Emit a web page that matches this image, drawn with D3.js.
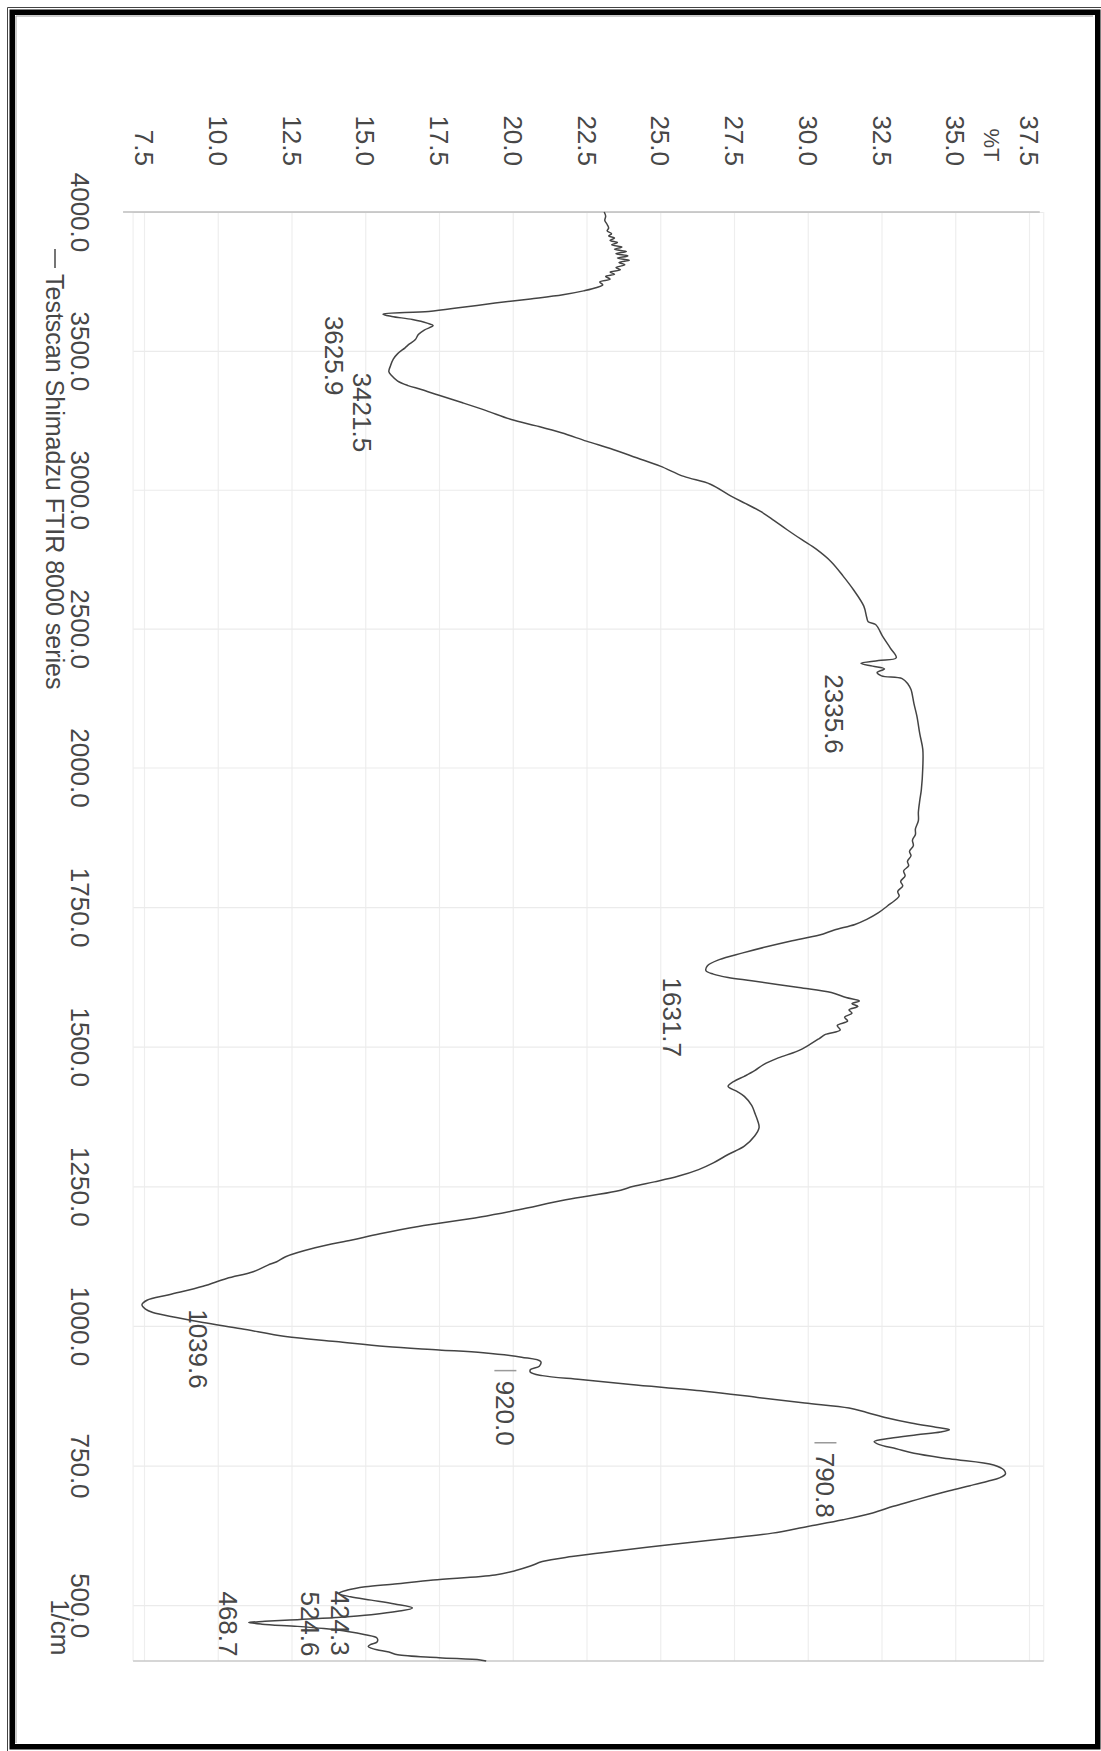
<!DOCTYPE html>
<html>
<head>
<meta charset="utf-8">
<script src="https://cdn.jsdelivr.net/npm/d3@7"></script>
<style>
  html, body { margin: 0; padding: 0; background: #fff; }
  svg { display: block; }
  text { font-family: "Liberation Sans", Arial, sans-serif; fill: #474747; }
</style>
</head>
<body>
<svg id="chart" width="1101" height="1751"></svg>
<script>
// ---------------- DATA ----------------
const wavenumber = [
  4000, 3985, 3970, 3955, 3942, 3932, 3922, 3914, 3906, 3898, 3890, 3882, 3874, 3866, 3858, 3850,
  3842, 3834, 3826, 3818, 3810, 3800, 3792, 3784, 3776, 3768, 3758, 3748, 3738, 3728, 3716, 3702,
  3687, 3672, 3657, 3642, 3632, 3624, 3613, 3600, 3591, 3575, 3559, 3541, 3525, 3511, 3490, 3470,
  3445, 3425, 3410, 3391, 3375, 3361, 3340, 3313, 3285, 3253, 3230, 3205, 3175, 3145, 3115, 3085,
  3048, 3020, 2977, 2950, 2922, 2890, 2856, 2820, 2785, 2740, 2689, 2640, 2581, 2540, 2525, 2515,
  2470, 2430, 2395, 2385, 2375, 2365, 2355, 2342, 2330, 2320, 2300, 2281, 2230, 2185, 2120, 2065,
  2000, 1960, 1942, 1920, 1905, 1890, 1880, 1870, 1860, 1850, 1842, 1832, 1824, 1815, 1806, 1796,
  1788, 1778, 1770, 1764, 1752, 1740, 1728, 1719, 1709, 1700, 1689, 1679, 1668, 1656, 1645, 1636,
  1630, 1624, 1618, 1606, 1597, 1588, 1582, 1577, 1572, 1566, 1560, 1553, 1546, 1538, 1530, 1522,
  1515, 1505, 1492, 1480, 1468, 1457, 1447, 1438, 1429, 1420, 1411, 1395, 1382, 1368, 1355, 1340,
  1322, 1307, 1292, 1280, 1268, 1258, 1250, 1241, 1226, 1208, 1195, 1178, 1165, 1154, 1140, 1124,
  1115, 1109, 1097, 1085, 1071, 1056, 1046, 1038, 1030, 1024, 1015, 1006, 995, 981, 972, 963,
  957, 952, 944, 936, 928, 922, 917, 911, 904, 895, 883, 872, 862, 853, 845, 835,
  826, 818, 814, 810, 805, 799, 793, 788, 780, 772, 762, 751, 742, 735, 728, 722,
  714, 705, 695, 686, 677, 665, 653, 641, 629, 618, 608, 597, 587, 578, 570, 562,
  554, 545, 538, 533, 527, 521, 515, 509, 502, 495, 489, 483, 478, 474, 471, 469,
  466, 462, 458, 453, 447, 441, 434, 430, 426, 423, 420, 416, 411, 406, 402, 400
];
const transmittance = [
  23.1, 23.15, 23.12, 23.2, 23.25, 23.2, 23.35, 23.25, 23.45, 23.3, 23.55, 23.35, 23.7, 23.45, 23.85, 23.5,
  23.9, 23.55, 23.95, 23.6, 23.8, 23.5, 23.65, 23.3, 23.45, 23.15, 23.3, 22.95, 23.05, 22.85, 22.4, 21.7,
  20.6, 19.4, 18.3, 17.15, 15.6, 15.9, 16.6, 17.1, 17.3, 17.0, 16.8, 16.7, 16.5, 16.35, 16.1, 15.95,
  15.85, 15.8, 15.9, 16.1, 16.45, 16.9, 17.5, 18.3, 19.1, 19.95, 20.8, 21.65, 22.5, 23.4, 24.2, 25.0,
  25.8, 26.7, 27.4, 27.9, 28.4, 28.85, 29.3, 29.8, 30.3, 30.8, 31.2, 31.55, 31.9, 32.0, 32.05, 32.3,
  32.55, 32.8, 33.0, 32.4, 31.8, 32.2, 32.6, 32.35, 32.5, 33.2, 33.4, 33.5, 33.6, 33.7, 33.8, 33.9,
  33.9, 33.85, 33.8, 33.75, 33.75, 33.65, 33.65, 33.55, 33.58, 33.45, 33.5, 33.38, 33.42, 33.25, 33.3, 33.15,
  33.22, 33.05, 33.1, 33.0, 32.7, 32.4, 32.0, 31.6, 30.9, 30.4, 29.4, 28.6, 27.8, 27.0, 26.6, 26.55,
  26.8, 27.3, 28.1, 29.7, 30.8, 31.3, 31.75, 31.5, 31.7, 31.4, 31.5, 31.25, 31.35, 31.0, 31.1, 30.6,
  30.4, 30.1, 29.65, 29.0, 28.5, 28.2, 27.85, 27.5, 27.3, 27.6, 27.85, 28.1, 28.2, 28.3, 28.35, 28.2,
  27.85, 27.3, 26.8, 26.3, 25.6, 24.8, 24.1, 23.5, 21.8, 20.2, 18.9, 16.8, 15.5, 14.55, 13.3, 12.3,
  12.0, 11.7, 11.2, 10.3, 9.5, 8.35, 7.6, 7.43, 7.55, 7.8, 8.6, 9.5, 10.8, 12.3, 14.0, 15.7,
  17.5, 19.0, 20.3, 20.95, 20.9, 20.6, 20.6, 21.0, 22.3, 24.0, 26.5, 28.3, 29.9, 31.4, 32.0, 32.7,
  33.5, 34.4, 34.8, 34.5, 33.7, 32.8, 32.25, 32.4, 33.0, 33.6, 34.8, 36.3, 36.65, 36.7, 36.5, 36.1,
  35.5, 34.8, 34.1, 33.5, 32.9, 32.2, 31.2, 30.0, 28.8, 27.0, 25.3, 23.5, 22.0, 21.0, 20.6, 20.1,
  19.4, 17.3, 16.0, 15.0, 14.4, 14.1, 14.5, 15.2, 16.0, 16.6, 16.1, 15.2, 14.0, 12.7, 11.6, 11.05,
  11.5, 12.7, 13.6, 14.4, 15.0, 15.4, 15.4, 15.2, 15.1, 15.2, 15.4, 15.8, 16.1, 17.5, 18.9, 19.1
];
const transmittanceTicks = [7.5, 10.0, 12.5, 15.0, 17.5, 20.0, 22.5, 25.0, 27.5, 30.0, 32.5, 35.0, 37.5];
const wavenumberTicks = [4000, 3500, 3000, 2500, 2000, 1750, 1500, 1250, 1000, 750, 500];
const peakLabels = ["3625.9", "3421.5", "2335.6", "1631.7", "1039.6", "920.0", "790.8", "524.6", "424.3", "468.7"];
const peakWavenumber = [3625.9, 3421.5, 2335.6, 1631.7, 1039.6, 920.0, 790.8, 524.6, 424.3, 468.7];
const legendText = "Testscan Shimadzu FTIR 8000 series";
const yUnitLabel = "%T";
const xUnitLabel = "1/cm";

// ---------------- LAYOUT (positions / styles only) ----------------
const labelLayout = {
  "3625.9": { t: 13.95, startWn: 3625.9 },
  "3421.5": { t: 14.9, startWn: 3421.5 },
  "2335.6": { t: 30.9, startWn: 2335.6 },
  "1631.7": { t: 25.4, startWn: 1624 },
  "1039.6": { t: 9.35, startWn: 1030 },
  "920.0":  { t: 19.75, startWn: 902, tick: true },
  "790.8":  { t: 30.6, startWn: 773, tick: true },
  "524.6":  { t: 13.15, startWn: 524.6 },
  "424.3":  { t: 14.15, startWn: 526 },
  "468.7":  { t: 10.35, startWn: 524.6 }
};
const W = 1101, H = 1751;
const FS = 26;

const svg = d3.select("#chart");

// ---------------- SCALES ----------------
const x = d3.scaleLinear().domain([7.5, 37.5]).range([144, 1029]);              // %T, horizontal
const y = d3.scaleLinear().domain([4000, 2000, 400]).range([212, 767.5, 1661]); // 1/cm, vertical (two-scale)
const xLeft = x(7.13), xRight = x(38.0);
const yTop = y(4000), yBottom = y(400);

// ---------------- FRAME ----------------
svg.append("rect").attr("x", 0).attr("y", 0).attr("width", W).attr("height", H).attr("fill", "#fff");
svg.append("path").attr("d", `M7.5,${H} V7.5 H${W}`).attr("fill", "none").attr("stroke", "#444").attr("stroke-width", 1);
svg.append("rect").attr("x", 12.25).attr("y", 12.25).attr("width", 1085.5).attr("height", 1734.5)
  .attr("fill", "none").attr("stroke", "#000").attr("stroke-width", 5.5);
svg.append("path").attr("d", `M16,${H - 8} V16 H${W - 8}`).attr("fill", "none").attr("stroke", "#999").attr("stroke-width", 1);

// ---------------- GRID ----------------
const gridV = svg.append("g").attr("transform", `translate(0,${yTop})`)
  .call(d3.axisBottom(x).tickValues(transmittanceTicks).tickSize(yBottom - yTop).tickFormat(""));
gridV.select(".domain").remove();
gridV.selectAll("line").attr("stroke", "#eeeeee").attr("stroke-width", 1.2);

const gridH = svg.append("g").attr("transform", `translate(${xLeft},0)`)
  .call(d3.axisRight(y).tickValues(wavenumberTicks).tickSize(xRight - xLeft).tickFormat(""));
gridH.select(".domain").remove();
gridH.selectAll("line").attr("stroke", "#ebebeb").attr("stroke-width", 1.2);

// plot borders
svg.append("line").attr("x1", xLeft).attr("x2", xLeft).attr("y1", yTop).attr("y2", yBottom).attr("stroke", "#efefef").attr("stroke-width", 1.2);
svg.append("line").attr("x1", xRight).attr("x2", xRight).attr("y1", yTop).attr("y2", yBottom).attr("stroke", "#efefef").attr("stroke-width", 1.2);
svg.append("line").attr("x1", xLeft - 10).attr("x2", xRight - 4).attr("y1", yTop).attr("y2", yTop).attr("stroke", "#bcbcbc").attr("stroke-width", 1.5);
svg.append("line").attr("x1", xLeft).attr("x2", xRight).attr("y1", yBottom).attr("y2", yBottom).attr("stroke", "#c8c8c8").attr("stroke-width", 1.5);

// ---------------- AXES (labels) ----------------
const axT = svg.append("g").attr("transform", `translate(0,${yTop})`)
  .call(d3.axisTop(x).tickValues(transmittanceTicks).tickSize(0).tickFormat(d3.format(".1f")));
axT.select(".domain").remove();
axT.selectAll("text")
  .attr("x", 0).attr("y", 0).attr("dy", "0.36em")
  .attr("transform", "translate(0,-46) rotate(90)")
  .attr("text-anchor", "end")
  .style("font-size", FS + "px")
  .style("font-family", '"Liberation Sans", Arial, sans-serif')
  .attr("fill", "#474747");

svg.append("text")
  .attr("transform", `translate(${(x(35) + x(37.5)) / 2},${yTop - 67}) rotate(90)`)
  .attr("dy", "0.36em").attr("text-anchor", "middle")
  .style("font-size", "22px").text(yUnitLabel);

const axW = svg.append("g").attr("transform", `translate(${xLeft},0)`)
  .call(d3.axisLeft(y).tickValues(wavenumberTicks).tickSize(0).tickFormat(d3.format(".1f")));
axW.select(".domain").remove();
axW.selectAll("text")
  .attr("x", 0).attr("y", 0).attr("dy", "0.36em")
  .attr("transform", `translate(${80 - xLeft},0) rotate(90)`)
  .attr("text-anchor", "middle")
  .style("font-size", FS + "px")
  .style("font-family", '"Liberation Sans", Arial, sans-serif')
  .attr("fill", "#474747");

svg.append("text")
  .attr("transform", `translate(60,${y(500) - 6}) rotate(90)`)
  .attr("dy", "0.36em").attr("text-anchor", "start")
  .style("font-size", FS + "px").text(xUnitLabel);

// legend
svg.append("line").attr("x1", 55).attr("x2", 55).attr("y1", 249).attr("y2", 268)
  .attr("stroke", "#474747").attr("stroke-width", 1.5);
svg.append("text")
  .attr("transform", "translate(55,274) rotate(90)")
  .attr("dy", "0.36em").attr("text-anchor", "start")
  .style("font-size", "25px").text(legendText);

// ---------------- SPECTRUM ----------------
const points = wavenumber.map((w, i) => ({ w, t: transmittance[i] }));
const line = d3.line().x(d => x(d.t)).y(d => y(d.w)).curve(d3.curveCatmullRom.alpha(0.5));
svg.append("path").datum(points)
  .attr("d", line)
  .attr("fill", "none")
  .attr("stroke", "#444")
  .attr("stroke-width", 1.5)
  .attr("stroke-linejoin", "round");

// ---------------- PEAK LABELS ----------------
peakLabels.forEach((lab, i) => {
  const L = labelLayout[lab];
  const cx = x(L.t);
  if (L.tick) {
    svg.append("line").attr("x1", cx - 11).attr("x2", cx + 11)
      .attr("y1", y(peakWavenumber[i])).attr("y2", y(peakWavenumber[i]))
      .attr("stroke", "#9a9a9a").attr("stroke-width", 1.5);
  }
  svg.append("text")
    .attr("transform", `translate(${cx},${y(L.startWn)}) rotate(90)`)
    .attr("dy", "0.36em").attr("text-anchor", "start")
    .style("font-size", FS + "px").text(lab);
});
</script>
</body>
</html>
